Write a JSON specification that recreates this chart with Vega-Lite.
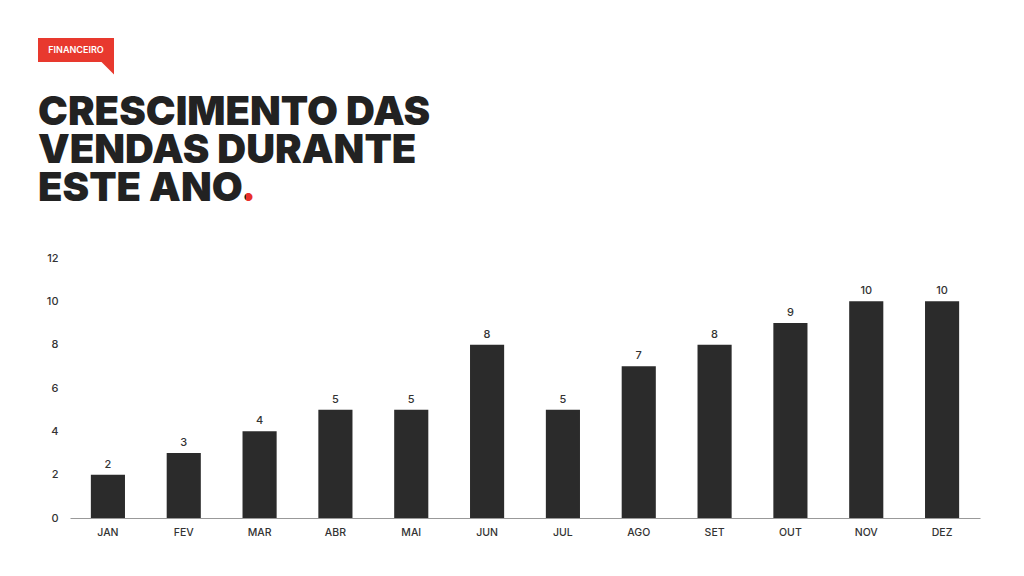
{
  "$schema": "https://vega.github.io/schema/vega-lite/v6.json",
  "background": "white",
  "padding": {"left": 38, "top": 38, "right": 10, "bottom": 10},
  "spacing": 0,
  "config": {"view": {"stroke": null}, "font": "Inter"},
  "vconcat": [
    {
      "width": 76,
      "height": 24,
      "view": {"fill": "#e8392e", "stroke": null},
      "data": {"values": [{"label": "FINANCEIRO"}]},
      "layer": [
        {
          "mark": {"type": "point", "shape": "M-1,0L0,0L0,1Z", "filled": true, "color": "#e8392e", "size": 625, "opacity": 1, "strokeWidth": 0},
          "encoding": {"x": {"value": "width"}, "y": {"value": "height"}}
        },
        {
          "mark": {"type": "text", "color": "white", "fontSize": 9, "fontWeight": 600, "font": "Inter", "baseline": "middle", "align": "center"},
          "encoding": {"text": {"field": "label"}}
        }
      ]
    },
    {
      "width": 400,
      "height": 177,
      "data": {"values": [
        {"row": 1, "text": "CRESCIMENTO DAS"},
        {"row": 2, "text": "VENDAS DURANTE"},
        {"row": 3, "text": "ESTE ANO."}
      ]},
      "encoding": {
        "x": {"datum": 0, "type": "quantitative", "scale": {"domain": [0, 1]}, "axis": null},
        "y": {"field": "row", "type": "ordinal", "axis": null, "scale": {"type": "point", "range": [50, 126], "padding": 0}},
        "text": {"field": "text"}
      },
      "layer": [
        {
          "transform": [{"filter": "datum.row < 3"}],
          "mark": {"type": "text", "color": "#222222", "font": "Inter", "fontWeight": 900, "fontSize": 40, "align": "left", "baseline": "alphabetic"}
        },
        {
          "transform": [{"filter": "datum.row == 3"}],
          "mark": {
            "type": "text", "font": "Inter", "fontWeight": 900, "fontSize": 40, "align": "left", "baseline": "alphabetic",
            "fill": {"gradient": "linear", "x1": 0, "x2": 1, "y1": 0, "y2": 0, "stops": [
              {"offset": 0, "color": "#222222"},
              {"offset": 0.955, "color": "#222222"},
              {"offset": 0.955, "color": "#e8302a"},
              {"offset": 1, "color": "#e8302a"}
            ]}
          }
        }
      ]
    },
    {
      "width": 942,
      "height": 260,
      "data": {"values": [
        {"mes": "JAN", "vendas": 2},
        {"mes": "FEV", "vendas": 3},
        {"mes": "MAR", "vendas": 4},
        {"mes": "ABR", "vendas": 5},
        {"mes": "MAI", "vendas": 5},
        {"mes": "JUN", "vendas": 8},
        {"mes": "JUL", "vendas": 5},
        {"mes": "AGO", "vendas": 7},
        {"mes": "SET", "vendas": 8},
        {"mes": "OUT", "vendas": 9},
        {"mes": "NOV", "vendas": 10},
        {"mes": "DEZ", "vendas": 10}
      ]},
      "encoding": {
        "x": {
          "field": "mes", "type": "nominal", "sort": null,
          "scale": {"paddingInner": 0.55, "paddingOuter": 0.275, "range": [32, 942]},
          "axis": {"title": null, "labelAngle": 0, "ticks": false, "domainColor": "#999999", "labelPadding": 9, "labelFontSize": 10.5, "labelColor": "#333333", "labelFontWeight": 500, "labelFont": "Inter"}
        },
        "y": {
          "field": "vendas", "type": "quantitative",
          "scale": {"domain": [0, 12]},
          "axis": {"title": null, "offset": -32, "values": [0, 2, 4, 6, 8, 10, 12], "grid": false, "ticks": false, "domain": false, "labelPadding": 12, "labelFontSize": 11, "labelColor": "#333333", "labelFont": "Inter", "labelFontWeight": 500}
        }
      },
      "layer": [
        {"mark": {"type": "bar", "color": "#2b2b2b"}},
        {
          "mark": {"type": "text", "baseline": "alphabetic", "dy": -7, "fontSize": 11, "fontWeight": 500, "color": "#333333", "font": "Inter"},
          "encoding": {"text": {"field": "vendas", "type": "quantitative"}}
        }
      ]
    }
  ]
}
